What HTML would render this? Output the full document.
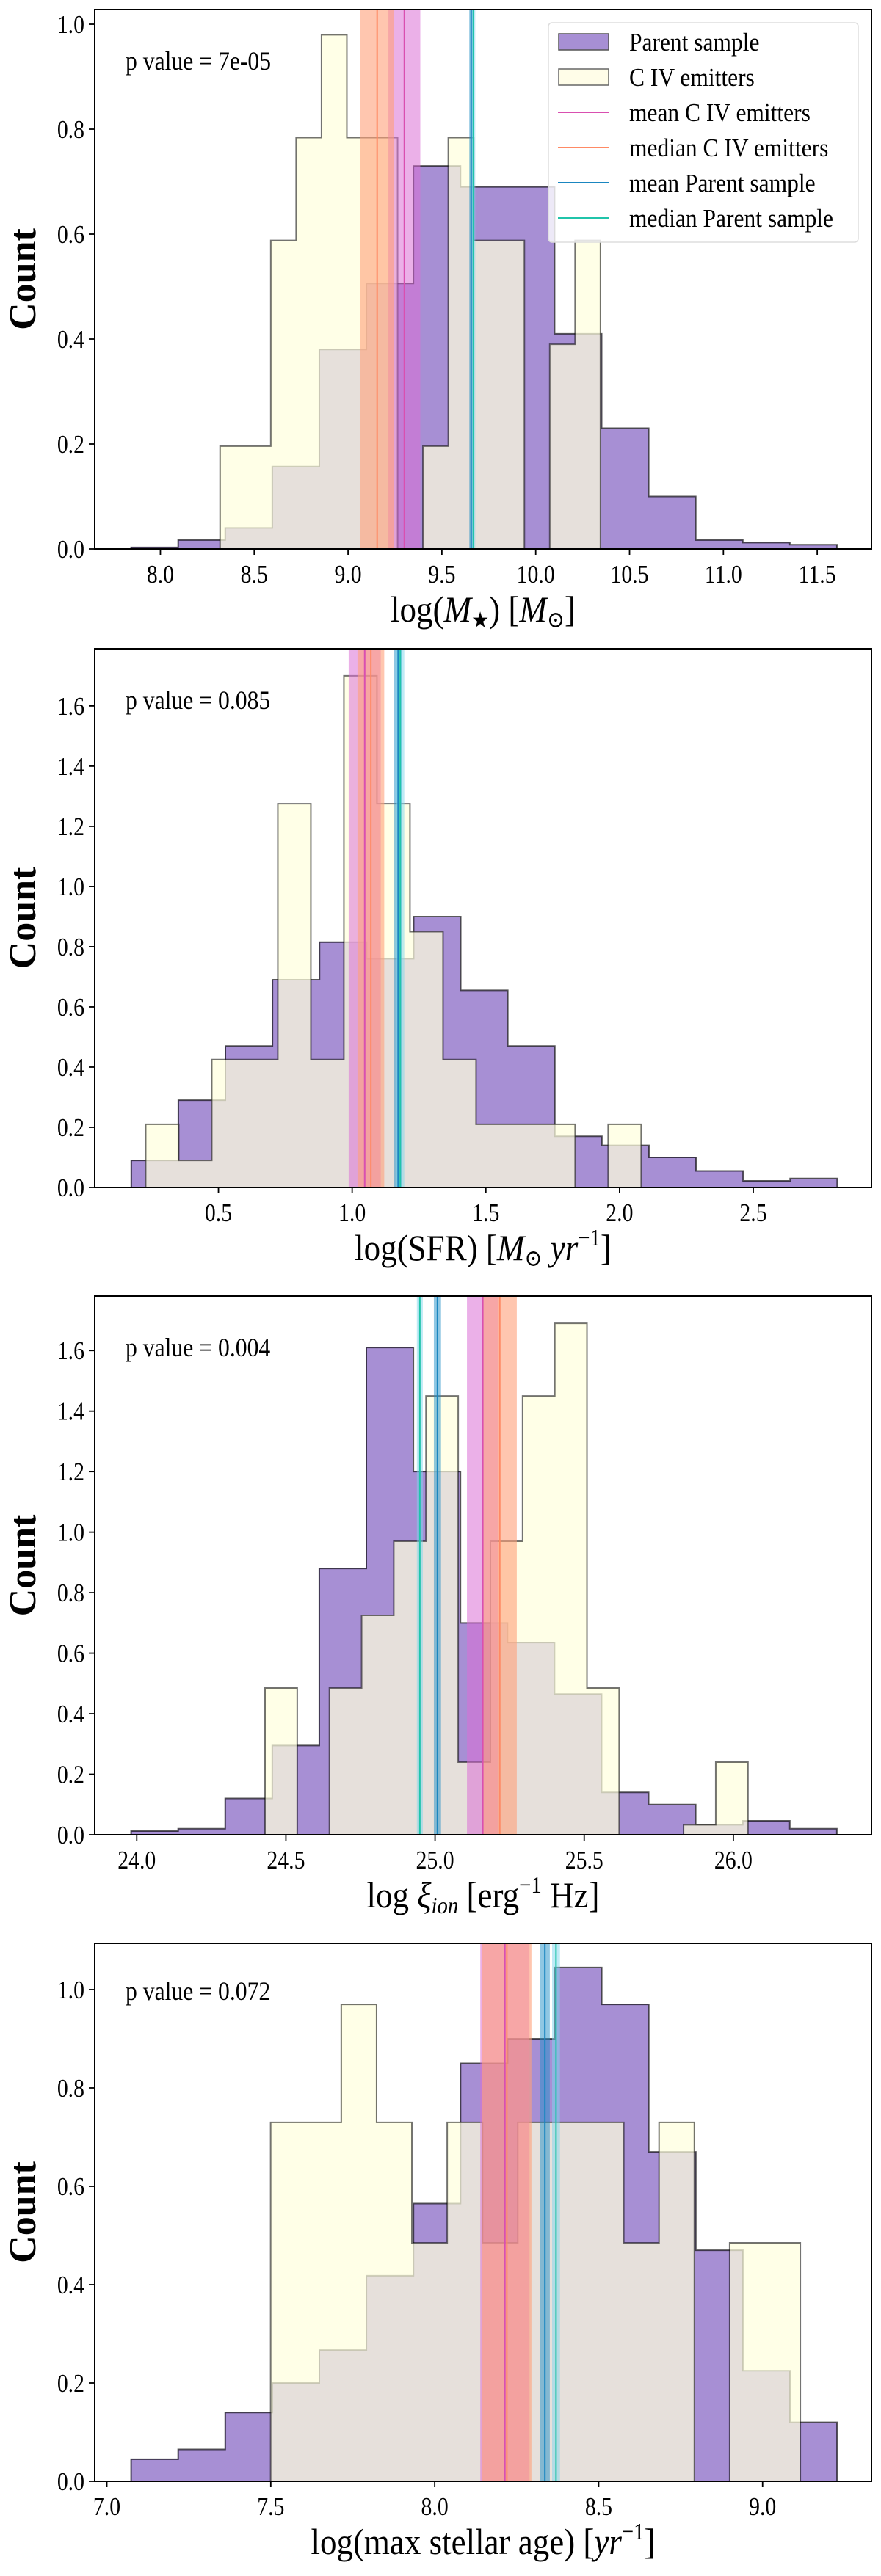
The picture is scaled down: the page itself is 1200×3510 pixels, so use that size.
<!DOCTYPE html>
<html><head><meta charset="utf-8"><style>
html,body{margin:0;padding:0;background:#fff;}
svg{display:block;font-family:"Liberation Serif","DejaVu Serif",serif;}
</style></head><body>
<svg id="chart" width="1200" height="3510" viewBox="0 0 1200 3510" xmlns="http://www.w3.org/2000/svg"></svg>
<script>
// ---------- Panel 1: stellar mass ----------
const massParentEdges = [7.844, 11.605];
const massParentCounts = [0.003,0.017,0.04,0.157,0.38,0.506,0.73,0.69,0.69,0.41,0.23,0.10,0.017,0.012,0.008];
const massCivEdges = [8.318, 10.345];
const massCivCounts = [0.196,0.196,0.588,0.784,0.98,0.784,0.784,0.0,0.196,0.784,0.588,0.588,0.0,0.39,0.588];
const massStats = [9.30, 9.155, 9.656, 9.668];
const massStatErr = [0.085, 0.09, 0.01, 0.01];
const massXTicks = [8.0, 8.5, 9.0, 9.5, 10.0, 10.5, 11.0, 11.5];
const massYTicks = [0.0, 0.2, 0.4, 0.6, 0.8, 1.0];
// ---------- Panel 2: SFR ----------
const sfrParentEdges = [0.174, 2.814];
const sfrParentCounts = [0.09,0.29,0.47,0.69,0.815,0.76,0.90,0.655,0.47,0.17,0.14,0.10,0.055,0.022,0.03];
const sfrCivEdges = [0.228, 2.081];
const sfrCivCounts = [0.21,0.09,0.425,0.425,1.275,0.425,1.7,1.275,0.85,0.425,0.21,0.21,0.21,0.0,0.21];
const sfrStats = [1.047, 1.07, 1.172, 1.18];
const sfrStatErr = [0.06, 0.05, 0.015, 0.015];
const sfrXTicks = [0.5, 1.0, 1.5, 2.0, 2.5];
const sfrYTicks = [0.0, 0.2, 0.4, 0.6, 0.8, 1.0, 1.2, 1.4, 1.6];
// ---------- Panel 3: xi_ion ----------
const xiParentEdges = [23.981, 26.347];
const xiParentCounts = [0.012,0.02,0.12,0.295,0.88,1.61,1.2,0.70,0.635,0.465,0.14,0.10,0.033,0.046,0.02];
const xiCivEdges = [24.430, 26.049];
const xiCivCounts = [0.485,0.0,0.485,0.725,0.97,1.45,0.24,0.97,1.45,1.69,0.485,0.0,0.0,0.033,0.24];
const xiStats = [25.16, 25.217, 25.008, 24.949];
const xiStatErr = [0.053, 0.057, 0.012, 0.01];
const xiXTicks = [24.0, 24.5, 25.0, 25.5, 26.0];
const xiYTicks = [0.0, 0.2, 0.4, 0.6, 0.8, 1.0, 1.2, 1.4, 1.6];
// ---------- Panel 4: max stellar age ----------
const ageParentEdges = [7.074, 9.227];
const ageParentCounts = [0.045,0.065,0.14,0.2,0.267,0.418,0.565,0.85,0.9,1.045,0.97,0.67,0.47,0.225,0.12];
const ageCivEdges = [7.4996, 9.115];
const ageCivCounts = [0.73,0.73,0.97,0.73,0.485,0.73,0.485,0.73,0.73,0.73,0.485,0.73,0.0,0.485,0.485];
const ageStats = [8.214, 8.22, 8.336, 8.37];
const ageStatErr = [0.075, 0.075, 0.015, 0.012];
const ageXTicks = [7.0, 7.5, 8.0, 8.5, 9.0];
const ageYTicks = [0.0, 0.2, 0.4, 0.6, 0.8, 1.0];

const NS = "http://www.w3.org/2000/svg";
const svg = document.getElementById("chart");
function mk(tag, attrs, parent) {
  const e = document.createElementNS(NS, tag);
  for (const k in attrs) e.setAttribute(k, attrs[k]);
  (parent || svg).appendChild(e);
  return e;
}
const LEFT = 129, RIGHT = 1187;
const panels = [
  {key:"mass", top:13, bottom:748, xmin:7.650, xmax:11.789, ymax:1.028, pEdges:massParentEdges, pCounts:massParentCounts, cEdges:massCivEdges, cCounts:massCivCounts, stats:massStats, err:massStatErr, xt:massXTicks, yt:massYTicks, pval:"p value = 7e-05", legend:true, xl:"mass"},
  {key:"sfr", top:884, bottom:1618, xmin:0.0373, xmax:2.942, ymax:1.79, pEdges:sfrParentEdges, pCounts:sfrParentCounts, cEdges:sfrCivEdges, cCounts:sfrCivCounts, stats:sfrStats, err:sfrStatErr, xt:sfrXTicks, yt:sfrYTicks, pval:"p value = 0.085", legend:false, xl:"sfr"},
  {key:"xi", top:1766, bottom:2500, xmin:23.859, xmax:26.463, ymax:1.78, pEdges:xiParentEdges, pCounts:xiParentCounts, cEdges:xiCivEdges, cCounts:xiCivCounts, stats:xiStats, err:xiStatErr, xt:xiXTicks, yt:xiYTicks, pval:"p value = 0.004", legend:false, xl:"xi"},
  {key:"age", top:2648, bottom:3381, xmin:6.963, xmax:9.332, ymax:1.094, pEdges:ageParentEdges, pCounts:ageParentCounts, cEdges:ageCivEdges, cCounts:ageCivCounts, stats:ageStats, err:ageStatErr, xt:ageXTicks, yt:ageYTicks, pval:"p value = 0.072", legend:false, xl:"age"}
];
const statColors = [
  {band:"#da70d6", bandOp:0.55, line:"#d94fb0"},
  {band:"#ffa07a", bandOp:0.6, line:"#ff8a65"},
  {band:"#1f8fc8", bandOp:0.5, line:"#1a86c0"},
  {band:"#7fd6ee", bandOp:0.5, line:"#20c4aa"}
];
const statNames = ["mean-civ","median-civ","mean-parent","median-parent"];

function histPath(edges, counts, X, Y) {
  const n = counts.length, w = (edges[1]-edges[0])/n;
  let d = "M" + X(edges[0]) + "," + Y(0);
  for (let i = 0; i < n; i++) {
    d += " L" + X(edges[0]+i*w) + "," + Y(counts[i]) + " L" + X(edges[0]+(i+1)*w) + "," + Y(counts[i]);
  }
  d += " L" + X(edges[1]) + "," + Y(0) + " Z";
  return d;
}

panels.forEach(p => {
  const X = v => LEFT + (v - p.xmin) / (p.xmax - p.xmin) * (RIGHT - LEFT);
  const Y = v => p.bottom - v / p.ymax * (p.bottom - p.top);
  const g = mk("g", {});
  
  
  const clipId = "clip-" + p.key;
  const cp = mk("clipPath", {id: clipId}, g);
  mk("rect", {x:LEFT, y:p.top, width:RIGHT-LEFT, height:p.bottom-p.top}, cp);
  const plot = mk("g", {"clip-path":"url(#"+clipId+")"}, g);

  const hp = mk("path", {d:histPath(p.pEdges,p.pCounts,X,Y), fill:"#a78fd4", stroke:"rgba(0,0,0,0.65)", "stroke-width":2}, plot);
  
  
  const hc = mk("path", {d:histPath(p.cEdges,p.cCounts,X,Y), fill:"rgba(255,255,222,0.72)", stroke:"rgba(0,0,0,0.55)", "stroke-width":2}, plot);
  
  

  p.stats.forEach((s, i) => {
    const c = statColors[i];
    const b = mk("rect", {x:X(s - p.err[i]), y:p.top, width:X(s + p.err[i]) - X(s - p.err[i]), height:p.bottom-p.top, fill:c.band, "fill-opacity":c.bandOp}, plot);
    
    
  });
  p.stats.forEach((s, i) => {
    const c = statColors[i];
    const l = mk("line", {x1:X(s), x2:X(s), y1:p.top, y2:p.bottom, stroke:c.line, "stroke-width":2}, plot);
    
    
  });

  const fr = mk("rect", {x:LEFT, y:p.top, width:RIGHT-LEFT, height:p.bottom-p.top, fill:"none", stroke:"#000", "stroke-width":2}, g);
  
  

  p.xt.forEach(t => {
    mk("line", {x1:X(t), x2:X(t), y1:p.bottom, y2:p.bottom+8, stroke:"#000", "stroke-width":1.8}, g);
    const tx = mk("text", {x:X(t), y:p.bottom+46, "text-anchor":"middle", "font-size":35, transform:"translate(" + X(t) + ",0) scale(0.85,1) translate(" + (-X(t)) + ",0)"}, g);
    tx.textContent = t.toFixed(1);
    
    
  });
  p.yt.forEach(t => {
    mk("line", {x1:LEFT-8, x2:LEFT, y1:Y(t), y2:Y(t), stroke:"#000", "stroke-width":1.8}, g);
    const tx = mk("text", {x:LEFT-14, y:Y(t)+12, "text-anchor":"end", "font-size":35, transform:"translate(" + (LEFT-14) + ",0) scale(0.85,1) translate(" + (-(LEFT-14)) + ",0)"}, g);
    tx.textContent = t.toFixed(1);
    
    
  });

  const yl = mk("text", {x:0, y:0, transform:"translate(48," + ((p.top+p.bottom)/2) + ") rotate(-90)", "text-anchor":"middle", "font-size":52, "font-weight":"bold"}, g);
  yl.textContent = "Count";
  
  

  const pv = mk("text", {x:171, y:p.top + (p.key==="age"?77:82), "font-size":36, transform:"translate(171,0) scale(0.88,1) translate(-171,0)"}, g);
  pv.textContent = p.pval;
  
  

  const cx = (LEFT+RIGHT)/2;
  const xl = mk("text", {x:cx, y:p.bottom+99, "text-anchor":"middle", "font-size":50, transform:"translate(" + cx + ",0) scale(0.9,1) translate(" + (-cx) + ",0)"}, g);
  
  
  if (p.xl === "mass") {
    xl.innerHTML = 'log(<tspan font-style="italic">M</tspan><tspan font-size="30" dy="8">★</tspan><tspan dy="-8">) [</tspan><tspan font-style="italic">M</tspan><tspan font-size="32" dy="8">⊙</tspan><tspan dy="-8">]</tspan>';
  } else if (p.xl === "sfr") {
    xl.innerHTML = 'log(SFR) [<tspan font-style="italic">M</tspan><tspan font-size="32" dy="8">⊙</tspan><tspan dy="-8" font-style="italic"> yr</tspan><tspan font-size="32" dy="-20">−1</tspan><tspan dy="20">]</tspan>';
  } else if (p.xl === "xi") {
    xl.innerHTML = 'log <tspan font-style="italic">ξ</tspan><tspan font-size="32" dy="8" font-style="italic">ion</tspan><tspan dy="-8"> [erg</tspan><tspan font-size="32" dy="-20">−1</tspan><tspan dy="20"> Hz]</tspan>';
  } else {
    xl.innerHTML = 'log(max stellar age) [<tspan font-style="italic">yr</tspan><tspan font-size="32" dy="-20">−1</tspan><tspan dy="20">]</tspan>';
  }

  if (p.legend) {
    const lg = mk("g", {}, g);
    
    
    mk("rect", {x:747, y:31, width:422, height:299, rx:5, fill:"rgba(255,255,255,0.8)", stroke:"#ddd", "stroke-width":1.5}, lg);
    const labels = ["Parent sample","C IV emitters","mean C IV emitters","median C IV emitters","mean Parent sample","median Parent sample"];
    const rows = [57,105,153,201,249,297];
    labels.forEach((lab, i) => {
      const cy = rows[i];
      if (i === 0) mk("rect", {x:761, y:cy-11, width:68, height:22, fill:"#a78fd4", stroke:"#555", "stroke-width":1.5}, lg);
      else if (i === 1) mk("rect", {x:761, y:cy-11, width:68, height:22, fill:"#fffde8", stroke:"#666", "stroke-width":1.5}, lg);
      else mk("line", {x1:760, x2:830, y1:cy, y2:cy, stroke:statColors[i-2].line, "stroke-width":2}, lg);
      const t = mk("text", {x:857, y:cy+12, "font-size":35, transform:"translate(857,0) scale(0.9,1) translate(-857,0)"}, lg);
      t.textContent = lab;
      
      
    });
  }
});
</script>
</body></html>
